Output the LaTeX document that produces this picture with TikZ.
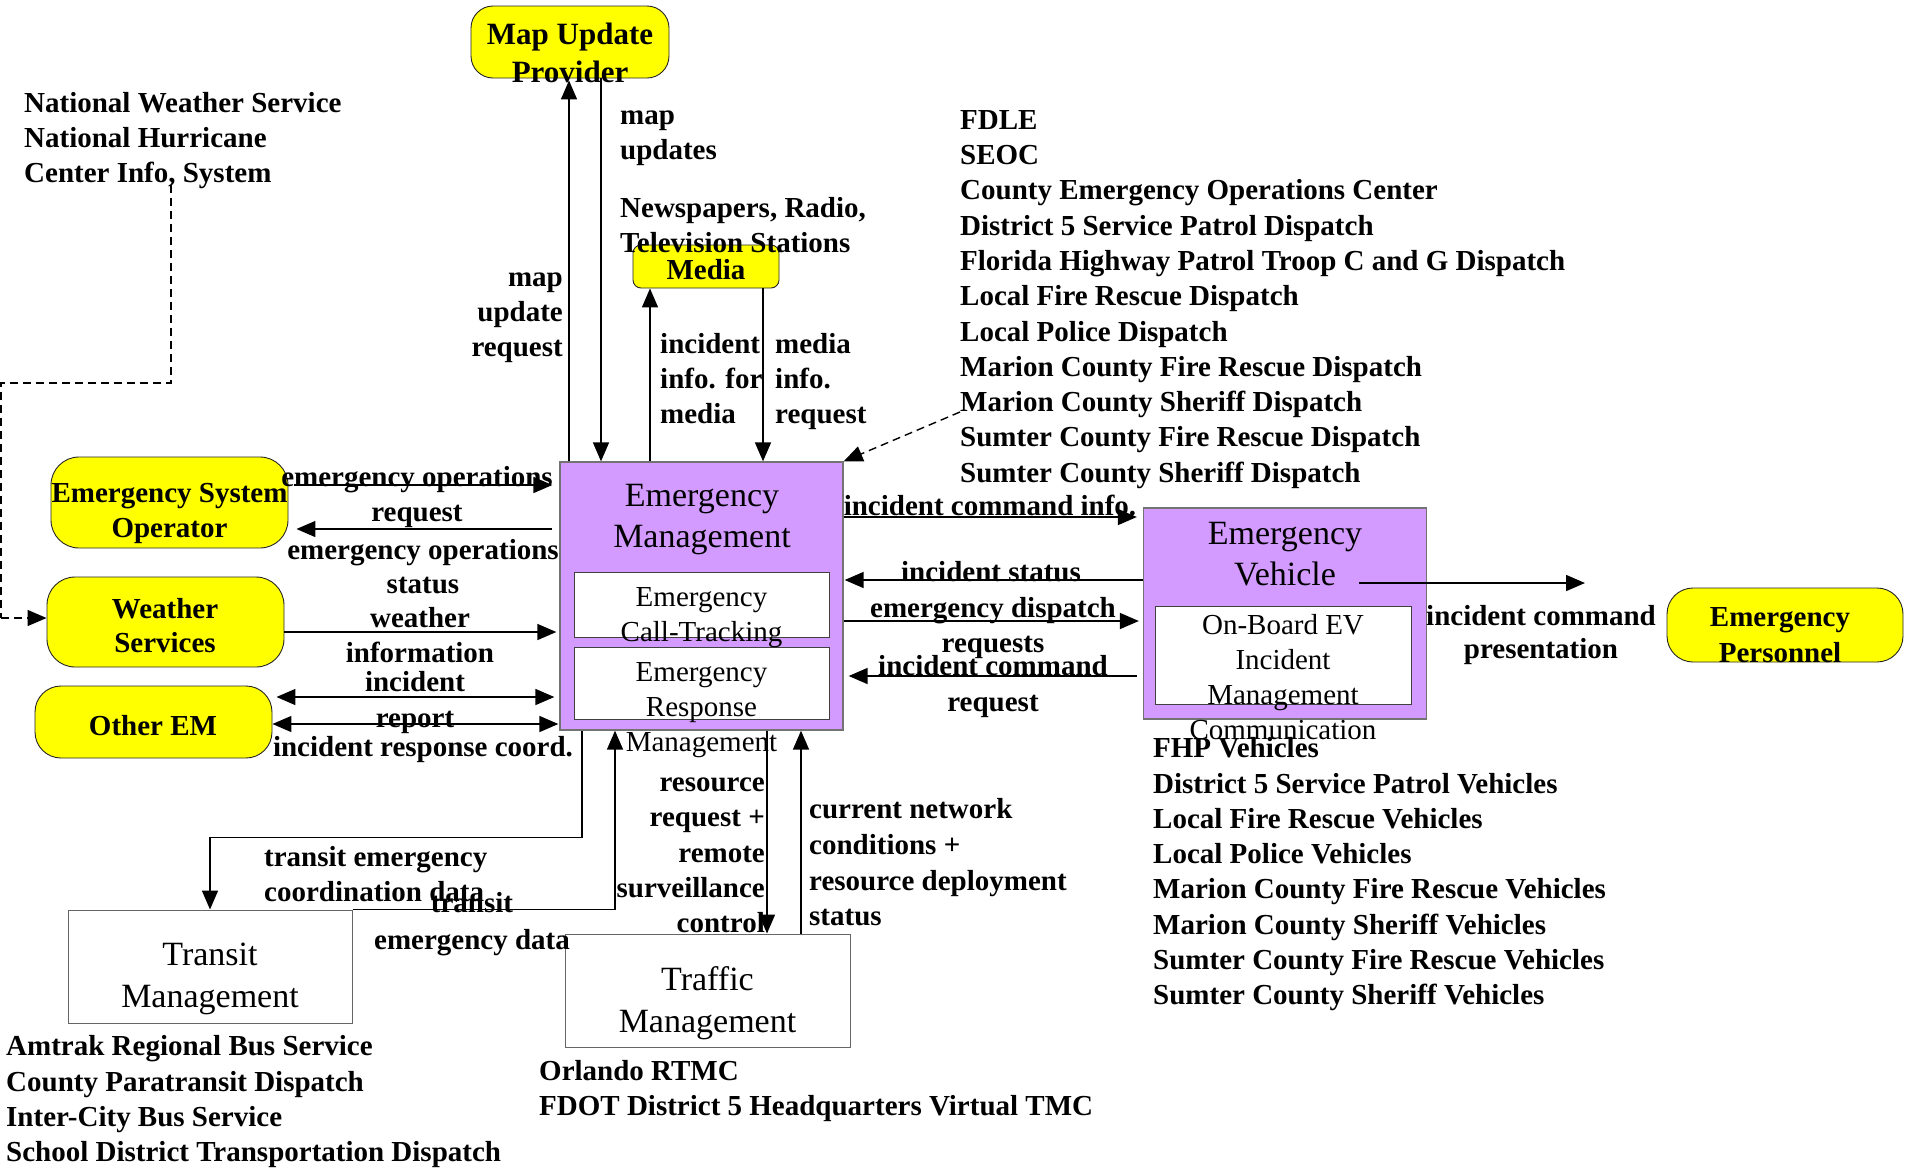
\documentclass[tikz,border=0pt]{standalone}
\usepackage{fontspec}
\setmainfont{Liberation Serif}
\usetikzlibrary{arrows.meta}
\definecolor{emPurple}{RGB}{211,155,255}
\definecolor{emYellow}{RGB}{255,255,0}
\begin{document}
\begin{tikzpicture}[x=1pt,y=-1pt,
  yellowbox/.style={draw=black!85,line width=0.9pt,fill=emYellow,rounded corners=22pt,inner sep=0pt},
  purplebox/.style={draw=black!55,line width=1.3pt,fill=emPurple,inner sep=0pt},
  whitebox/.style={draw=black!75,line width=1pt,fill=white,inner sep=0pt},
  btxt/.style={inner sep=0pt,yshift=-5pt,font=\fontsize{29}{35.3}\selectfont\bfseries,execute at begin node=\strut,execute at end node=\strut},
  rtxt/.style={inner sep=0pt,yshift=-5pt,font=\fontsize{34}{41}\selectfont,execute at begin node=\strut,execute at end node=\strut},
  itxt/.style={inner sep=0pt,yshift=-5pt,font=\fontsize{29}{35}\selectfont,execute at begin node=\strut,execute at end node=\strut},
  arr/.style={line width=1.6pt,-{Triangle[length=19pt,width=16pt]}},
  darr/.style={line width=1.6pt,{Triangle[length=19pt,width=16pt]}-{Triangle[length=19pt,width=16pt]}},
  dsh/.style={line width=1.4pt,dash pattern=on 8pt off 5pt}]
\useasboundingbox (0,0) rectangle (1905,1168);

% ---------- boxes ----------
\node[yellowbox,minimum width=198pt,minimum height=72pt] (MUP) at (570,42) {};
\node[yellowbox,rounded corners=8pt,minimum width=146pt,minimum height=43pt] (Media) at (706,266.5) {};
\node[yellowbox,rounded corners=28pt,minimum width=237pt,minimum height=91pt] (ESO) at (169.5,502.5) {};
\node[yellowbox,rounded corners=28pt,minimum width=237pt,minimum height=90pt] (WS) at (165.5,622) {};
\node[yellowbox,rounded corners=26pt,minimum width=237pt,minimum height=72pt] (OEM) at (153.5,722) {};
\node[yellowbox,rounded corners=26pt,minimum width=236pt,minimum height=74pt] (EP) at (1785,625) {};

\node[purplebox,minimum width=283pt,minimum height=268pt] (EM) at (701.5,596) {};
\node[whitebox,minimum width=255pt,minimum height=65pt] (ECT) at (701.5,604.5) {};
\node[whitebox,minimum width=255pt,minimum height=72pt] (ER) at (701.5,683) {};

\node[purplebox,minimum width=283pt,minimum height=211pt] (EV) at (1285,613.5) {};
\node[whitebox,minimum width=256pt,minimum height=98pt] (OBEV) at (1283,655) {};

\node[whitebox,draw=black!60,minimum width=284pt,minimum height=113pt] (TR) at (210,966.5) {};
\node[whitebox,draw=black!60,minimum width=285pt,minimum height=113pt] (TF) at (707.5,990.5) {};

% ---------- free coordinates ----------
\coordinate (evout) at (1359,583);
\coordinate (epin) at (1585,583);
\coordinate (nwsout) at (171,185);

% ---------- list / label texts (named) ----------
\node[btxt,align=left,anchor=west] (NWS) at (24,137.7)
  {National Weather Service\\National Hurricane\\Center Info, System};
\node[btxt,align=left,anchor=west] (FDLE) at (960,296.5)
  {FDLE\\SEOC\\County Emergency Operations Center\\District 5 Service Patrol Dispatch\\Florida Highway Patrol Troop C and G Dispatch\\Local Fire Rescue Dispatch\\Local Police Dispatch\\Marion County Fire Rescue Dispatch\\Marion County Sheriff Dispatch\\Sumter County Fire Rescue Dispatch\\Sumter County Sheriff Dispatch};
\node[btxt,align=left,anchor=west] (FHP) at (1153,871.5)
  {FHP Vehicles\\District 5 Service Patrol Vehicles\\Local Fire Rescue Vehicles\\Local Police Vehicles\\Marion County Fire Rescue Vehicles\\Marion County Sheriff Vehicles\\Sumter County Fire Rescue Vehicles\\Sumter County Sheriff Vehicles};
\node[btxt,align=left,anchor=west] (TRlist) at (6,1099)
  {Amtrak Regional Bus Service\\County Paratransit Dispatch\\Inter-City Bus Service\\School District Transportation Dispatch};
\node[btxt,align=left,anchor=west,font=\fontsize{29}{34.5}\selectfont\bfseries] (TFlist) at (539,1088)
  {Orlando RTMC\\FDOT District 5 Headquarters Virtual TMC};
\node[btxt,align=left,anchor=west] (NRT) at (620,225.5)
  {Newspapers, Radio,\\Television Stations};

% ---------- connectors ----------
\draw[arr,shorten >=2pt] (EM.north -| 569,0) -- (MUP.south -| 569,0);
\draw[arr] (MUP.south -| 601,0) -- (EM.north -| 601,0);
\draw[arr] (EM.north -| 650,0) -- (Media.south -| 650,0);
\draw[arr] (Media.south -| 763,0) -- (EM.north -| 763,0);

\draw[arr,shorten <=6pt,shorten >=7pt] (ESO.east |- 0,485) -- (EM.west |- 0,485);
\draw[arr,shorten <=7pt,shorten >=8pt] (EM.west |- 0,529) -- (ESO.east |- 0,529);
\draw[arr,shorten >=3pt] (WS.east |- 0,632) -- (EM.west |- 0,632);
\draw[darr,shorten <=4pt,shorten >=5pt] (OEM.east |- 0,697) -- (EM.west |- 0,697);
\draw[darr,shorten >=1pt] (OEM.east |- 0,724) -- (EM.west |- 0,724);

\draw[arr,shorten >=6pt] (EM.east |- 0,517) -- (EV.west |- 0,517);
\draw[arr,shorten >=1pt] (EV.west |- 0,580) -- (EM.east |- 0,580);
\draw[arr,shorten >=4pt] (EM.east |- 0,621) -- (EV.west |- 0,621);
\draw[arr,shorten <=6pt,shorten >=5pt] (EV.west |- 0,676) -- (EM.east |- 0,676);
\draw[arr] (evout) -- (epin);

\draw[arr] (EM.south -| 582,0) -- ++(0,107) -| (TR.north);
\draw[arr] (TR.north east) -| (EM.south -| 615,0);
\draw[arr] (EM.south -| 767,0) -- (TF.north -| 767,0);
\draw[arr] (TF.north -| 801,0) -- (EM.south -| 801,0);

\draw[dsh] (nwsout) -- (171,383) -| (1,618);
\draw[dsh,-{Triangle[length=19pt,width=16pt]}] (1,618) -- (WS.west |- 0,618);
\draw[dsh,-{Triangle[length=19pt,width=16pt]}] (FDLE.west |- 0,412) -- (EM.north east);

% ---------- box texts ----------
\node[btxt,align=center,font=\fontsize{31}{38}\selectfont\bfseries] (MUPt) at (570,53) {Map Update\\Provider};
\node[btxt] (Mediat) at (706,267) {Media};
\node[btxt,align=center,font=\fontsize{29}{35}\selectfont\bfseries] (ESOt) at (169.5,510.5) {Emergency System\\Operator};
\node[btxt,align=center,font=\fontsize{29}{34}\selectfont\bfseries] (WSt) at (165,626) {Weather\\Services};
\node[btxt] (OEMt) at (153,723) {Other EM};
\node[btxt,align=center,font=\fontsize{29}{36}\selectfont\bfseries] (EPt) at (1780,635) {Emergency\\Personnel};

\node[rtxt,align=center] (EMt) at (702,517) {Emergency\\Management};
\node[itxt,align=center] (ECTt) at (701.5,614.5) {Emergency\\Call-Tracking};
\node[itxt,align=center] (ERt) at (701.5,707) {Emergency\\Response\\Management};
\node[rtxt,align=center] (EVt) at (1285,555) {Emergency\\Vehicle};
\node[itxt,align=center] (OBEVt) at (1283,677.5) {On-Board EV\\Incident\\Management\\Communication};
\node[rtxt,align=center,font=\fontsize{34}{42}\selectfont] (TRt) at (210,977) {Transit\\Management};
\node[rtxt,align=center,font=\fontsize{34}{42}\selectfont] (TFt) at (707.5,1001) {Traffic\\Management};

% ---------- connector labels ----------
\node[btxt,align=right,anchor=east,font=\fontsize{29}{35}\selectfont\bfseries] (l1) at (563,315) {map\\update\\request};
\node[btxt,align=left,anchor=west,font=\fontsize{29}{35}\selectfont\bfseries] (l2) at (620,135.5) {map\\updates};
\node[btxt,align=left,anchor=west,font=\fontsize{29}{35}\selectfont\bfseries] (l3) at (660,379) {incident\\info. for\\media};
\node[btxt,align=left,anchor=west,font=\fontsize{29}{35}\selectfont\bfseries] (l4) at (775,379) {media\\info.\\request};
\node[btxt,align=center,font=\fontsize{29}{35}\selectfont\bfseries] (l5) at (417,494.5) {emergency operations\\request};
\node[btxt,align=center,font=\fontsize{29}{34}\selectfont\bfseries] (l6) at (423,567) {emergency operations\\status};
\node[btxt,align=center,font=\fontsize{29}{35}\selectfont\bfseries] (l7) at (420,635.5) {weather\\information};
\node[btxt,align=center,font=\fontsize{29}{36}\selectfont\bfseries] (l8) at (415,700) {incident\\report};
\node[btxt] (l9) at (423,744) {incident response coord.};
\node[btxt] (l10) at (990,503) {incident command info.};
\node[btxt] (l11) at (991,569) {incident status};
\node[btxt,align=center,font=\fontsize{29}{35}\selectfont\bfseries] (l12) at (993,625.5) {emergency dispatch\\requests};
\node[btxt,align=center,font=\fontsize{29}{36}\selectfont\bfseries] (l13) at (993,684) {incident command\\request};
\node[btxt,align=center,font=\fontsize{29}{33}\selectfont\bfseries] (l14) at (1541,631.5) {incident command\\presentation};
\node[btxt,align=left,anchor=west,font=\fontsize{29}{35}\selectfont\bfseries] (l15) at (264,874.5) {transit emergency\\coordination data};
\node[btxt,align=center,font=\fontsize{29}{37}\selectfont\bfseries] (l16) at (472,921.5) {transit\\emergency data};
\node[btxt,align=right,anchor=east,font=\fontsize{29}{35.25}\selectfont\bfseries] (l17) at (765,855.5) {resource\\request +\\remote\\surveillance\\control};
\node[btxt,align=left,anchor=west,font=\fontsize{29}{35.7}\selectfont\bfseries] (l18) at (809,862.5) {current network\\conditions +\\resource deployment\\status};
\end{tikzpicture}
\end{document}
